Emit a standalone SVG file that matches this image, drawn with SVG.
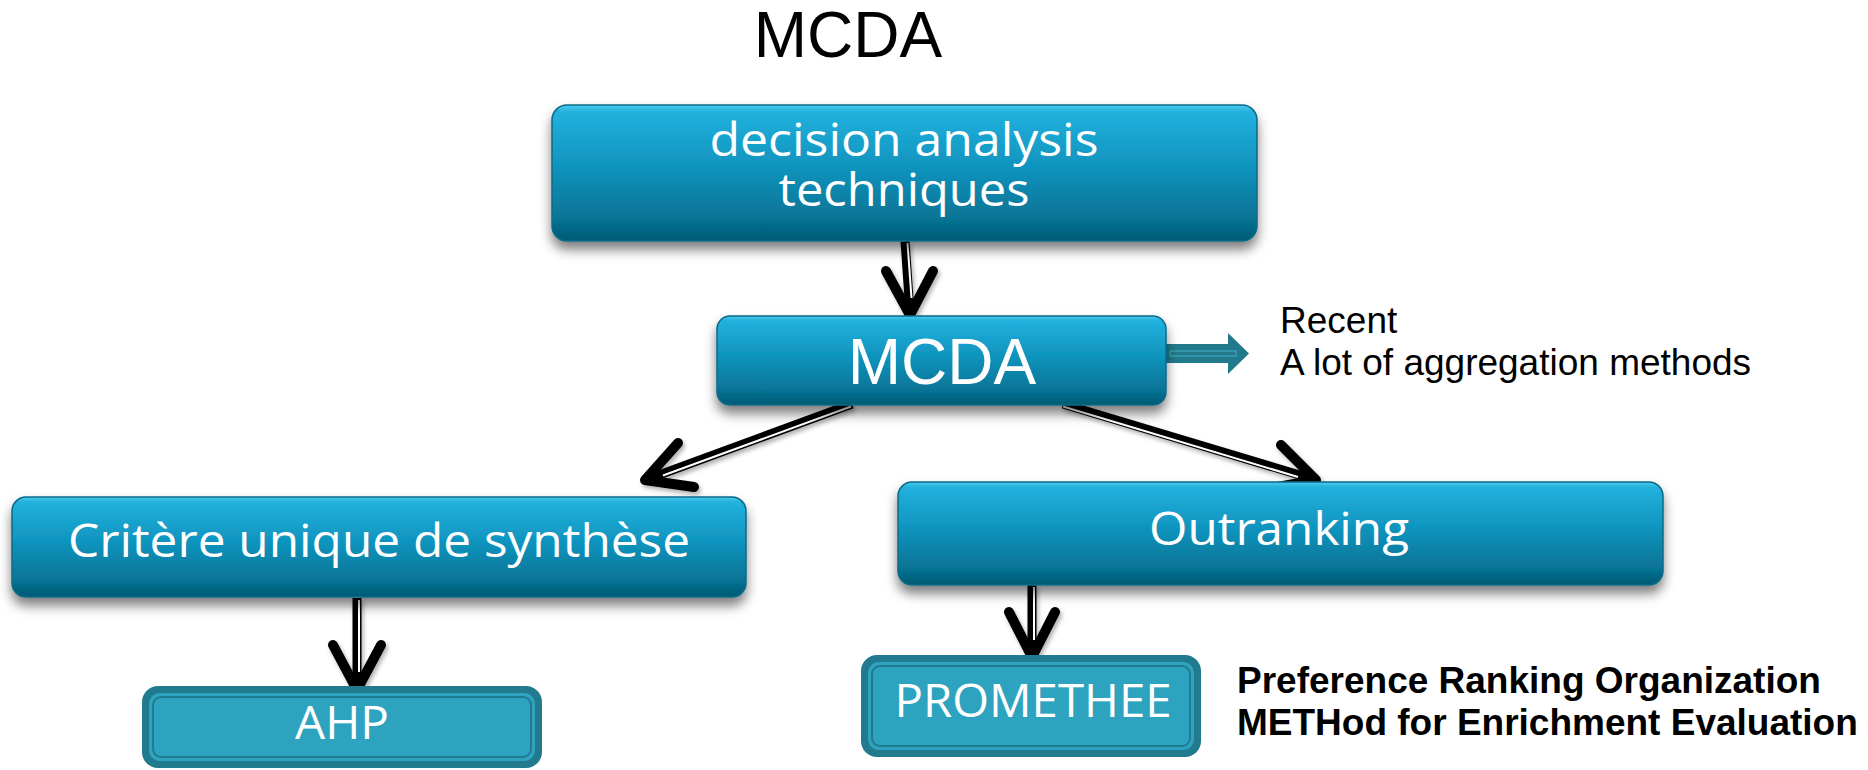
<svg xmlns="http://www.w3.org/2000/svg" width="1868" height="770" viewBox="0 0 1868 770">
  <defs>
    <linearGradient id="gloss" x1="0" y1="0" x2="0" y2="1">
      <stop offset="0" stop-color="#4ccbf0"/>
      <stop offset="0.05" stop-color="#22b1dd"/>
      <stop offset="0.45" stop-color="#0f94be"/>
      <stop offset="0.82" stop-color="#077597"/>
      <stop offset="1" stop-color="#045a74"/>
    </linearGradient>
    <filter id="boxShadow" x="-5%" y="-10%" width="110%" height="140%">
      <feDropShadow dx="0" dy="8" stdDeviation="6" flood-color="#000" flood-opacity="0.5"/>
    </filter>
    <filter id="arrowShadow" x="-20%" y="-20%" width="140%" height="140%">
      <feDropShadow dx="2" dy="3" stdDeviation="2" flood-color="#000" flood-opacity="0.3"/>
    </filter>
  </defs>
  <style>
    .box { fill: url(#gloss); stroke: #0a6a86; stroke-width: 1.5; filter: url(#boxShadow); }
    .flat-outer { fill: #217a8d; }
    .flat-inner { fill: #2ea3c0; }
    .flat-line { fill: none; stroke: #217a8d; stroke-width: 2; }
    .label { font-family: "Open Sans", "DejaVu Sans", sans-serif; font-size: 46px; fill: #ffffff; text-anchor: middle; }
    .helv { font-family: "Liberation Sans", Arial, sans-serif; }
    .note { font-family: "Liberation Sans", Arial, sans-serif; font-size: 37px; fill: #000; }
    .bold { font-family: "Liberation Sans", Arial, sans-serif; font-size: 37px; font-weight: bold; fill: #000; }
    .shaft { stroke: #000; stroke-width: 9; fill: none; }
    .gap { stroke: #fff; stroke-width: 2; fill: none; }
    .head { stroke: #000; stroke-width: 10; fill: none; stroke-linecap: round; stroke-linejoin: round; }
  </style>

  <rect width="1868" height="770" fill="#ffffff"/>

  <!-- heading -->
  <text class="helv" x="848" y="57" font-size="64" text-anchor="middle" fill="#000">MCDA</text>

  <!-- connectors -->
  <g id="connectors" filter="url(#arrowShadow)">
    <!-- decision analysis techniques -> MCDA -->
    <line class="shaft" x1="905" y1="241" x2="910" y2="313"/>
    <line class="gap" x1="907.5" y1="243" x2="911.5" y2="298"/>
    <polyline class="head" points="886,271 910,315 933,271"/>

    <!-- MCDA -> Critère unique de synthèse -->
    <line class="shaft" x1="852" y1="404" x2="648" y2="479"/>
    <line class="gap" x1="851" y1="406.5" x2="663" y2="475.5"/>
    <polyline class="head" points="678,443 645,480 694,487"/>

    <!-- MCDA -> Outranking -->
    <line class="shaft" x1="1063" y1="404" x2="1313" y2="479"/>
    <line class="gap" x1="1063" y1="406.5" x2="1298" y2="477"/>
    <polyline class="head" points="1281,445 1316,480 1267,489"/>

    <!-- Critère unique de synthèse -> AHP -->
    <line class="shaft" x1="357" y1="598" x2="357" y2="688"/>
    <line class="gap" x1="359" y1="600" x2="359" y2="672"/>
    <polyline class="head" points="333,645 357,690 381,645"/>

    <!-- Outranking -> PROMETHEE -->
    <line class="shaft" x1="1032" y1="585" x2="1032" y2="655"/>
    <line class="gap" x1="1034" y1="587" x2="1034" y2="640"/>
    <polyline class="head" points="1009,612 1032,657 1055,612"/>
  </g>

  <!-- side note arrow from MCDA -->
  <g id="note-arrow">
    <path d="M1164,344 H1228 V333 L1249,353.5 L1228,374 V363 H1164 Z" fill="#217a8c"/>
    <rect x="1170" y="351" width="66" height="5" fill="none" stroke="#3fa6bf" stroke-width="1.2"/>
  </g>

  <!-- nodes -->
  <g id="node-decision">
    <rect class="box" x="552" y="105" width="705" height="136" rx="15"/>
    <text class="label" x="904" y="156" textLength="389" lengthAdjust="spacingAndGlyphs">decision analysis</text>
    <text class="label" x="904" y="206" textLength="251" lengthAdjust="spacingAndGlyphs">techniques</text>
  </g>

  <g id="node-mcda">
    <rect class="box" x="717" y="316" width="449" height="89" rx="13"/>
    <text class="helv" x="942" y="384" font-size="64" fill="#fff" text-anchor="middle">MCDA</text>
  </g>

  <g id="node-critere">
    <rect class="box" x="12" y="497" width="734" height="100" rx="14"/>
    <text class="label" x="379" y="557" textLength="622" lengthAdjust="spacingAndGlyphs">Critère unique de synthèse</text>
  </g>

  <g id="node-outranking">
    <rect class="box" x="898" y="482" width="765" height="103" rx="14"/>
    <text class="label" x="1279" y="545" textLength="260" lengthAdjust="spacingAndGlyphs">Outranking</text>
  </g>

  <g id="node-ahp">
    <rect class="flat-outer" x="142" y="686" width="400" height="82" rx="16"/>
    <rect class="flat-inner" x="149" y="693" width="386" height="68" rx="11"/>
    <rect class="flat-line" x="153" y="697" width="378" height="60" rx="8"/>
    <text class="label" x="342" y="739" textLength="94" lengthAdjust="spacingAndGlyphs">AHP</text>
  </g>

  <g id="node-promethee">
    <rect class="flat-outer" x="861" y="655" width="340" height="102" rx="16"/>
    <rect class="flat-inner" x="868" y="662" width="326" height="88" rx="11"/>
    <rect class="flat-line" x="872" y="666" width="318" height="80" rx="8"/>
    <text class="label" x="1033" y="717" textLength="277" lengthAdjust="spacingAndGlyphs">PROMETHEE</text>
  </g>

  <!-- annotations -->
  <text class="note" x="1280" y="333">Recent</text>
  <text class="note" x="1280" y="375">A lot of aggregation methods</text>

  <text class="bold" x="1237" y="693">Preference Ranking Organization</text>
  <text class="bold" x="1237" y="735">METHod for Enrichment Evaluation</text>
</svg>
